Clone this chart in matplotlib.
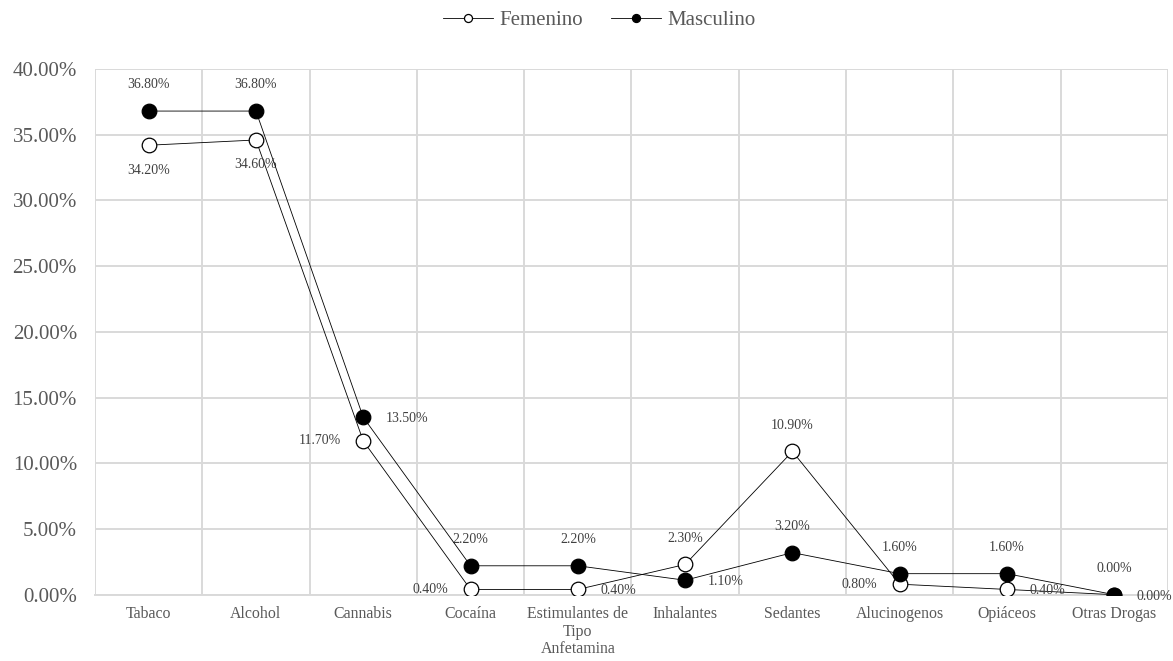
import numpy as np
import matplotlib
matplotlib.use("Agg")
from matplotlib import pyplot as plt

# Consumo por sexo y sustancia
categories = ["Tabaco", "Alcohol", "Cannabis", "Cocaína",
              "Estimulantes de\nTipo\nAnfetamina", "Inhalantes", "Sedantes",
              "Alucinogenos", "Opiáceos", "Otras Drogas"]
femenino = [34.2, 34.6, 11.7, 0.4, 0.4, 2.3, 10.9, 0.8, 0.4, 0.0]
masculino = [36.8, 36.8, 13.5, 2.2, 2.2, 1.1, 3.2, 1.6, 1.6, 0.0]
yticks = [0, 5, 10, 15, 20, 25, 30, 35, 40]

# where each value label goes: a=above, b=below, l=left, r=right
pos_fem = ["b", "b", "l", "l", "r", "a", "a", "l", "r", "r"]
pos_mas = ["a", "a", "r", "a", "a", "r", "a", "a", "a", "a"]

plt.rcParams['font.family'] = ['Liberation Serif', 'DejaVu Serif']

GRID = "#d9d9d9"
TXT = "#595959"
LBL = "#404040"


def put_labels(ax, xs, ys, where):
    for x, y, w in zip(xs, ys, where):
        txt = "{:.2f}%".format(y)
        if w == "a":
            off, ha, va = (0, 19), "center", "center"
        elif w == "b":
            off, ha, va = (0, -18), "center", "center"
        elif w == "l":
            off, ha, va = (-16, 0), "right", "center"
        else:
            off, ha, va = (16, -1), "left", "center"
        ax.annotate(txt, (x, y), xytext=off, textcoords="offset points",
                    ha=ha, va=va, fontsize=10, color=LBL)


fig = plt.figure(figsize=(11.73, 6.61), dpi=100)
ax = fig.add_axes([0.081, 0.1003, 0.9147, 0.7953])

xV = np.arange(len(categories))
ax.plot(xV, femenino, color="black", lw=0.6, marker="o", ms=10.5,
        mfc="white", mec="black", mew=0.9, label="Femenino", zorder=3)
ax.plot(xV, masculino, color="black", lw=0.6, marker="o", ms=10.5,
        mfc="black", mec="black", mew=0.9, label="Masculino", zorder=4)

put_labels(ax, xV, femenino, pos_fem)
put_labels(ax, xV, masculino, pos_mas)

ax.set_xlim(-0.5, len(categories) - 0.5)
ax.set_ylim(0, 40)
ax.set_yticks(yticks)
ax.set_yticklabels(["{:.2f}%".format(v) for v in yticks])
ax.set_xticks(xV)
ax.set_xticklabels(categories, linespacing=1.15)
ax.set_xticks(np.arange(-0.5, len(categories), 1.0), minor=True)

ax.grid(axis="y", which="major", color=GRID, lw=1.4)
ax.grid(axis="x", which="minor", color=GRID, lw=1.4)
ax.set_axisbelow(True)
for s in ["top", "right", "left"]:
    ax.spines[s].set_visible(False)
ax.spines["bottom"].set_color(GRID)
ax.spines["bottom"].set_linewidth(1.4)

ax.tick_params(axis="y", which="both", length=0, pad=13, labelsize=15,
               labelcolor=TXT)
ax.tick_params(axis="x", which="both", length=0, pad=8, labelsize=11.4,
               labelcolor=TXT)

fig.legend(loc="upper center", bbox_to_anchor=(0.511, 1.012), ncol=2,
           frameon=False, fontsize=15, handlelength=2.4, markerscale=0.55,
           handletextpad=0.3, columnspacing=1.35, labelcolor=TXT)

fig.savefig("out.png", dpi=100)
